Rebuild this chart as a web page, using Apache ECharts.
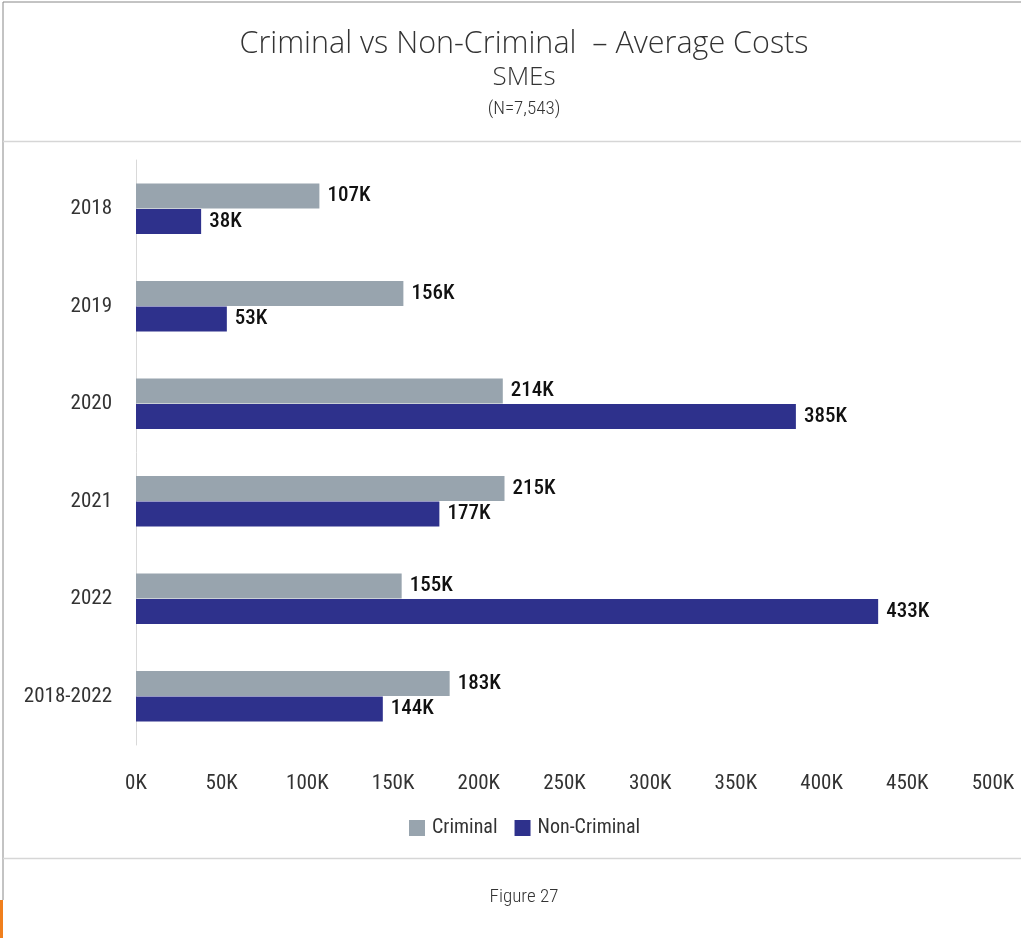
<!DOCTYPE html>
<html>
<head>
<meta charset="utf-8">
<script src="https://cdn.jsdelivr.net/npm/echarts@6/dist/echarts.min.js"></script>
<style>
html,body{margin:0;padding:0;background:#fff;}
#c{width:1021px;height:938px;}
</style>
</head>
<body>
<div id="c"></div>
<script>
var categories = ['2018', '2019', '2020', '2021', '2022', '2018-2022'];
var criminal = [107, 156, 214, 215, 155, 183];
var nonCriminal = [38, 53, 385, 177, 433, 144];
var xTicks = [0, 50, 100, 150, 200, 250, 300, 350, 400, 450, 500];

var COND = "'Roboto Condensed','DejaVu Sans Condensed','Liberation Sans Narrow','Noto Sans',sans-serif";
var chart = echarts.init(document.getElementById('c'), null, {renderer: 'canvas'});
var labelCfg = {
  show: true, position: 'right', distance: 8,
  formatter: function (p) { return p.value + 'K'; },
  color: '#111', fontSize: 21, fontFamily: COND, fontWeight: 500
};
chart.setOption({
  backgroundColor: '#fff',
  animation: false,
  title: [
    {text: 'Criminal vs Non-Criminal  – Average Costs', left: 519, textAlign: 'center', top: 24,
     textStyle: {fontFamily: "'Open Sans', Lato, sans-serif", fontWeight: 300, fontSize: 30.5, color: '#333'}},
    {text: 'SMEs', left: 519, textAlign: 'center', top: 60,
     textStyle: {fontFamily: "'Open Sans', Lato, sans-serif", fontWeight: 300, fontSize: 26, color: '#333'}},
    {text: '(N=7,543)', left: 519, textAlign: 'center', top: 95,
     textStyle: {fontFamily: COND, fontWeight: 300, fontSize: 19, color: '#333'}},
    {text: 'Figure 27', left: 519, textAlign: 'center', top: 883,
     textStyle: {fontFamily: COND, fontWeight: 300, fontSize: 19, color: '#333'}}
  ],
  legend: {
    data: ['Criminal', 'Non-Criminal'], left: 404, top: 813,
    icon: 'rect', itemWidth: 16, itemHeight: 16, itemGap: 17,
    textStyle: {fontFamily: COND, fontSize: 20, color: '#333', padding: [0, 0, 0, 2]}
  },
  grid: {left: 136, right: 28, top: 160, bottom: 193, containLabel: false},
  xAxis: {
    type: 'value', min: 0, max: 500, interval: 50,
    axisLine: {show: false}, axisTick: {show: false}, splitLine: {show: false},
    axisLabel: {formatter: '{value}K', margin: 28, color: '#333', fontSize: 21, fontFamily: COND}
  },
  yAxis: {
    type: 'category', data: categories, inverse: true,
    axisLine: {show: true, lineStyle: {color: '#d9d9d9', width: 1}},
    axisTick: {show: false},
    axisLabel: {margin: 24, color: '#333', fontSize: 21, fontFamily: COND}
  },
  series: [
    {name: 'Criminal', type: 'bar', data: criminal, barWidth: 25, barGap: '2%',
     itemStyle: {color: '#98a4ae'}, label: labelCfg},
    {name: 'Non-Criminal', type: 'bar', data: nonCriminal, barWidth: 25,
     itemStyle: {color: '#2e318c'}, label: labelCfg}
  ],
  graphic: [
    {type: 'line', shape: {x1: 3, y1: 2, x2: 1021, y2: 2}, style: {stroke: '#888', lineWidth: 1}},
    {type: 'line', shape: {x1: 3, y1: 2, x2: 3, y2: 900}, style: {stroke: '#888', lineWidth: 1}},
    {type: 'line', shape: {x1: 3, y1: 141.5, x2: 1021, y2: 141.5}, style: {stroke: '#d6d6d6', lineWidth: 1.5}},
    {type: 'line', shape: {x1: 3, y1: 858.5, x2: 1021, y2: 858.5}, style: {stroke: '#d6d6d6', lineWidth: 1.5}},
    {type: 'rect', shape: {x: 0, y: 900, width: 3, height: 38}, style: {fill: '#f07f1d'}}
  ]
});
</script>
</body>
</html>
